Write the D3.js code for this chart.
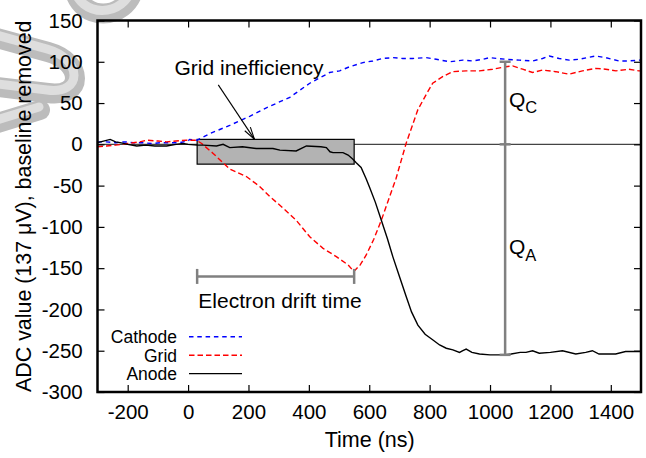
<!DOCTYPE html>
<html><head><meta charset="utf-8">
<script src="https://cdn.jsdelivr.net/npm/d3@7"></script>
<style>
html,body{margin:0;padding:0;background:#fff;}
text{font-family:"Liberation Sans",Arial,Helvetica,sans-serif;fill:#000;}
</style></head>
<body><svg id="c" width="646" height="458"></svg>
<script>
// ---- data ----
const xTicks = [-200, 0, 200, 400, 600, 800, 1000, 1200, 1400];
const yTicks = [150, 100, 50, 0, -50, -100, -150, -200, -250, -300];
const seriesNames = ["Cathode", "Grid", "Anode"];

const cathodeT = [-300,-270,-240,-210,-180,-150,-120,-90,-60,-30,0,5,30,72,138,204,270,337,403,469,502,535,579,612,645,678,711,744,788,822,866,910,943,976,998,1053,1097,1141,1174,1196,1229,1262,1295,1350,1383,1427,1460,1493,1500];
const cathodeV = [3,3,2,3,2,2,1,2,2,2,4,6,5,13,23,34,46,57,74,87,89,94,99,101,104,105,104,104,105,103,100,102,101,103,105,103,102,101,104,107,104,102,103,107,105,101,101,102,102];

const gridT = [-300,-270,-240,-200,-160,-137,-100,-71,-40,-5,28,45,83,138,193,237,270,314,358,403,447,491,530,549,570,590,615,640,665,689,722,761,788,810,843,876,921,965,1009,1053,1075,1108,1141,1174,1218,1262,1306,1350,1383,1417,1460,1493,1500];
const gridV = [-3,-2,-1,1,3,5,4,3,4,5,5,1,-11,-30,-39,-51,-63,-77,-92,-112,-126,-136,-146,-154,-146,-134,-115,-92,-66,-41,1,42,60,74,82,88,89,89,91,94,95,91,87,90,88,85,89,92,91,89,91,89,89];

const anodeT = [-300,-290,-258,-240,-225,-200,-170,-140,-110,-71,-40,-16,0,30,50,94,116,138,180,226,281,304,358,392,440,458,470,480,513,530,546,556,573,590,601,620,640,660,678,700,722,740,761,785,811,833,855,877,899,910,921,940,965,1000,1042,1070,1100,1119,1141,1163,1200,1240,1284,1317,1339,1361,1416,1449,1487,1500];
const anodeV = [2,3,6,3,2,0,-2,-1,-2,-2,0,1,0,-1,-1,-2,0,-4,-3,-5,-5,-7,-8,-2,-3,-4,-9,-10,-10,-13,-18,-22,-28,-42,-52,-70,-92,-114,-136,-160,-184,-203,-219,-230,-237,-243,-247,-249,-252,-250,-248,-252,-254,-255,-255,-254,-252,-252,-250,-253,-252,-250,-254,-252,-250,-254,-254,-251,-251,-251];

// annotations (data coordinates)
const boxX = [30, 550], boxY = [6, -24];
const arrowFrom = [100, 72], arrowTo = [220, 6];
const driftX = [30, 550], driftY = -160;
const qT = 1050, qTop = 100, qZero = 0, qBottom = -255;

// ---- layout ----
const svg = d3.select("#c");
const x = d3.scaleLinear().domain([-300, 1500]).range([97.5, 641]);
const y = d3.scaleLinear().domain([-300, 150]).range([392, 20.5]);
const L = 97.5, R = 641, T = 20.5, B = 392;

// grey tube decoration in the top-left corner of the image
const deco = svg.append("g").attr("fill", "none").attr("stroke-linecap", "round");
const tubes = [
  "M -10,36 L 48,52 C 84,62 84,98 48,93 L -10,86",
  "M 74,-12 C 80,22 126,22 134,-12",
  "M -12,126 L 40,110"
];
tubes.forEach(d => {
  deco.append("path").attr("d", d).attr("stroke", "#bcbcbc").attr("stroke-width", 20);
  deco.append("path").attr("d", d).attr("stroke", "#dedede").attr("stroke-width", 9)
    .attr("transform", "translate(-1,-3)");
});

// zero line
svg.append("line").attr("x1", L).attr("x2", R).attr("y1", y(0)).attr("y2", y(0))
  .attr("stroke", "#444").attr("stroke-width", 1.2);

// grey box
svg.append("rect").attr("x", x(boxX[0])).attr("y", y(boxY[0]))
  .attr("width", x(boxX[1]) - x(boxX[0])).attr("height", y(boxY[1]) - y(boxY[0]))
  .attr("fill", "#b3b3b3").attr("stroke", "#000").attr("stroke-width", 1.2);

// series
const line = d3.line().x(d => x(d[0])).y(d => y(d[1]));
const zip = (a, b) => a.map((t, i) => [t, b[i]]);
const styles = [
  {t: cathodeT, v: cathodeV, c: "#0000ff", dash: "4.5,3.8"},
  {t: gridT, v: gridV, c: "#ff0000", dash: "5.5,3"},
  {t: anodeT, v: anodeV, c: "#000000", dash: null}
];
styles.forEach(s => {
  const p = svg.append("path").datum(zip(s.t, s.v)).attr("d", line)
    .attr("fill", "none").attr("stroke", s.c).attr("stroke-width", 1.4);
  if (s.dash) p.attr("stroke-dasharray", s.dash);
});

// grey measurement bars
const gray = "#808080";
const g2 = svg.append("g").attr("stroke", gray).attr("stroke-width", 2.5);
g2.append("line").attr("x1", x(qT)).attr("x2", x(qT)).attr("y1", y(qTop)).attr("y2", y(qBottom));
[qTop, qZero, qBottom].forEach(v => g2.append("line")
  .attr("x1", x(qT) - 5.5).attr("x2", x(qT) + 5.5).attr("y1", y(v)).attr("y2", y(v)));
g2.append("line").attr("x1", x(driftX[0])).attr("x2", x(driftX[1])).attr("y1", y(driftY)).attr("y2", y(driftY));
driftX.forEach(t => g2.append("line").attr("x1", x(t)).attr("x2", x(t))
  .attr("y1", y(driftY) - 7.5).attr("y2", y(driftY) + 7.5));

// arrow
const ax1 = x(arrowFrom[0]), ay1 = y(arrowFrom[1]), ax2 = x(arrowTo[0]), ay2 = y(arrowTo[1]);
svg.append("line").attr("x1", ax1).attr("y1", ay1).attr("x2", ax2).attr("y2", ay2)
  .attr("stroke", "#000").attr("stroke-width", 1.1);
const ang = Math.atan2(ay2 - ay1, ax2 - ax1), hl = 13, ha = 0.26;
[ang + Math.PI - ha, ang + Math.PI + ha].forEach(a => svg.append("line")
  .attr("x1", ax2).attr("y1", ay2).attr("x2", ax2 + hl * Math.cos(a)).attr("y2", ay2 + hl * Math.sin(a))
  .attr("stroke", "#000").attr("stroke-width", 1.1));

// annotation texts
svg.append("text").attr("x", 249).attr("y", 75).attr("text-anchor", "middle")
  .style("font-size", "21px").text("Grid inefficiency");
svg.append("text").attr("x", 280).attr("y", 308).attr("text-anchor", "middle")
  .style("font-size", "21px").text("Electron drift time");
const qc = svg.append("text").attr("x", 509).attr("y", 107).style("font-size", "21px");
qc.append("tspan").text("Q");
qc.append("tspan").attr("dy", 6).style("font-size", "16.5px").text("C");
const qa = svg.append("text").attr("x", 509).attr("y", 253.5).style("font-size", "21px");
qa.append("tspan").text("Q");
qa.append("tspan").attr("dy", 7).style("font-size", "16.5px").text("A");

// axes
const fmt = d => String(d);
const ax = svg.append("g").attr("transform", `translate(0,${B})`)
  .call(d3.axisBottom(x).tickValues(xTicks).tickSize(-7).tickPadding(12.5).tickFormat(fmt));
const axT = svg.append("g").attr("transform", `translate(0,${T})`)
  .call(d3.axisTop(x).tickValues(xTicks).tickSize(-7).tickFormat(""));
const ay = svg.append("g").attr("transform", `translate(${L},0)`)
  .call(d3.axisLeft(y).tickValues(yTicks).tickSize(-7).tickPadding(14.8).tickFormat(fmt));
const ayR = svg.append("g").attr("transform", `translate(${R},0)`)
  .call(d3.axisRight(y).tickValues(yTicks).tickSize(-7).tickFormat(""));
[ax, axT, ay, ayR].forEach(g => {
  g.select(".domain").remove();
  g.selectAll(".tick line").attr("stroke", "#000").attr("stroke-width", 1.2);
  g.selectAll("text").attr("font-family", null).style("font-size", "20.5px").attr("fill", "#000");
});

// frame
svg.append("rect").attr("x", L).attr("y", T).attr("width", R - L).attr("height", B - T)
  .attr("fill", "none").attr("stroke", "#000").attr("stroke-width", 2.5);

// axis titles
svg.append("text").attr("x", (L + R) / 2 + 0.5).attr("y", 447).attr("text-anchor", "middle")
  .style("font-size", "21.5px").text("Time (ns)");
svg.append("text").attr("transform", `translate(30.5,${(T + B) / 2}) rotate(-90)`)
  .attr("text-anchor", "middle").style("font-size", "21.4px")
  .text("ADC value (137 μV), baseline removed");

// legend
const lg = svg.append("g");
styles.forEach((s, i) => {
  const yy = 343.3 + i * 18.4;
  lg.append("text").attr("x", 177).attr("y", yy).attr("text-anchor", "end")
    .style("font-size", "17.5px").text(seriesNames[i]);
  const l = lg.append("line").attr("x1", 189).attr("x2", 242).attr("y1", yy - 6.5).attr("y2", yy - 6.5)
    .attr("stroke", s.c).attr("stroke-width", 1.4);
  if (s.dash) l.attr("stroke-dasharray", s.dash);
});
</script></body></html>
